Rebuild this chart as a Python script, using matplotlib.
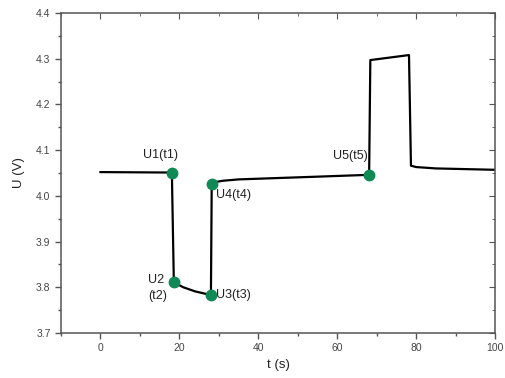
import matplotlib.pyplot as plt
from matplotlib.ticker import MultipleLocator

plt.rcParams['font.family'] = ['Liberation Sans', 'DejaVu Sans']

# courbe de tension U(t)
t = [0, 18.1, 18.6, 21, 24, 28.0, 28.2, 29, 31, 35, 45, 55, 68.1,
     68.4, 78.2, 78.7, 80, 85, 90, 100]
u = [4.052, 4.051, 3.811, 3.800, 3.791, 3.783, 4.026, 4.030, 4.033, 4.036,
     4.039, 4.042, 4.046, 4.297, 4.308, 4.066, 4.063, 4.060, 4.059, 4.057]

# points remarquables
pt_t = [18.1, 18.6, 28.0, 28.2, 68.1]
pt_u = [4.050, 3.811, 3.783, 4.026, 4.046]
pt_lab = ['U1(t1)', 'U2\n(t2)', 'U3(t3)', 'U4(t4)', 'U5(t5)']

fig = plt.figure(figsize=(5.05, 3.78), dpi=100)
ax = fig.add_axes([61 / 505, 45 / 378, 434 / 505, 320 / 378])

ax.plot(t, u, color='black', lw=1.6, zorder=2)
ax.plot(pt_t, pt_u, 'o', color='#0f8a55', ms=7.5, zorder=3)

# positions des etiquettes (decalage en points)
offs = [(-8, 9, 'center', 'bottom'), (-5, -4, 'right', 'center'),
        (4, 0, 'left', 'center'), (3, -8, 'left', 'center'),
        (-1, 9, 'right', 'bottom')]
for x, y, s, (dx, dy, ha, va) in zip(pt_t, pt_u, pt_lab, offs):
    ax.annotate(s, (x, y), xytext=(dx, dy), textcoords='offset points',
                ha=ha, va=va, fontsize=9, color='#222222', linespacing=1.5,
                multialignment='left')

ax.set_xlim(-10, 100)
ax.set_ylim(3.7, 4.4)
ax.xaxis.set_major_locator(MultipleLocator(20))
ax.xaxis.set_minor_locator(MultipleLocator(10))
ax.yaxis.set_major_locator(MultipleLocator(0.1))
ax.yaxis.set_minor_locator(MultipleLocator(0.05))
ax.set_xticks([0, 20, 40, 60, 80, 100])

ax.tick_params(which='both', direction='out', colors='#555555',
               labelsize=7.5, labelcolor='#444444', width=1)
ax.tick_params(which='major', length=4)
ax.tick_params(which='minor', length=2.5)
for s in ax.spines.values():
    s.set_color('#555555')
    s.set_linewidth(1.1)

# axes haut et droit (ticks vers l'interieur)
axt = ax.secondary_xaxis('top')
axt.set_xticks([0, 20, 40, 60, 80, 100])
axt.xaxis.set_minor_locator(MultipleLocator(10))
axt.tick_params(which='both', direction='in', labeltop=False, colors='#555555')
axt.tick_params(which='major', length=4)
axt.tick_params(which='minor', length=2.5)
axr = ax.secondary_yaxis('right')
axr.yaxis.set_major_locator(MultipleLocator(0.1))
axr.yaxis.set_minor_locator(MultipleLocator(0.05))
axr.tick_params(which='both', direction='in', labelright=False, colors='#555555')
axr.tick_params(which='major', length=4)
axr.tick_params(which='minor', length=2.5)
for a in (axt, axr):
    for s in a.spines.values():
        s.set_visible(False)

ax.set_xlabel('t (s)', fontsize=9.5, color='#222222', labelpad=4)
ax.set_ylabel('U (V)', fontsize=9.5, color='#222222', labelpad=8)

fig.savefig('out.png', dpi=100)
